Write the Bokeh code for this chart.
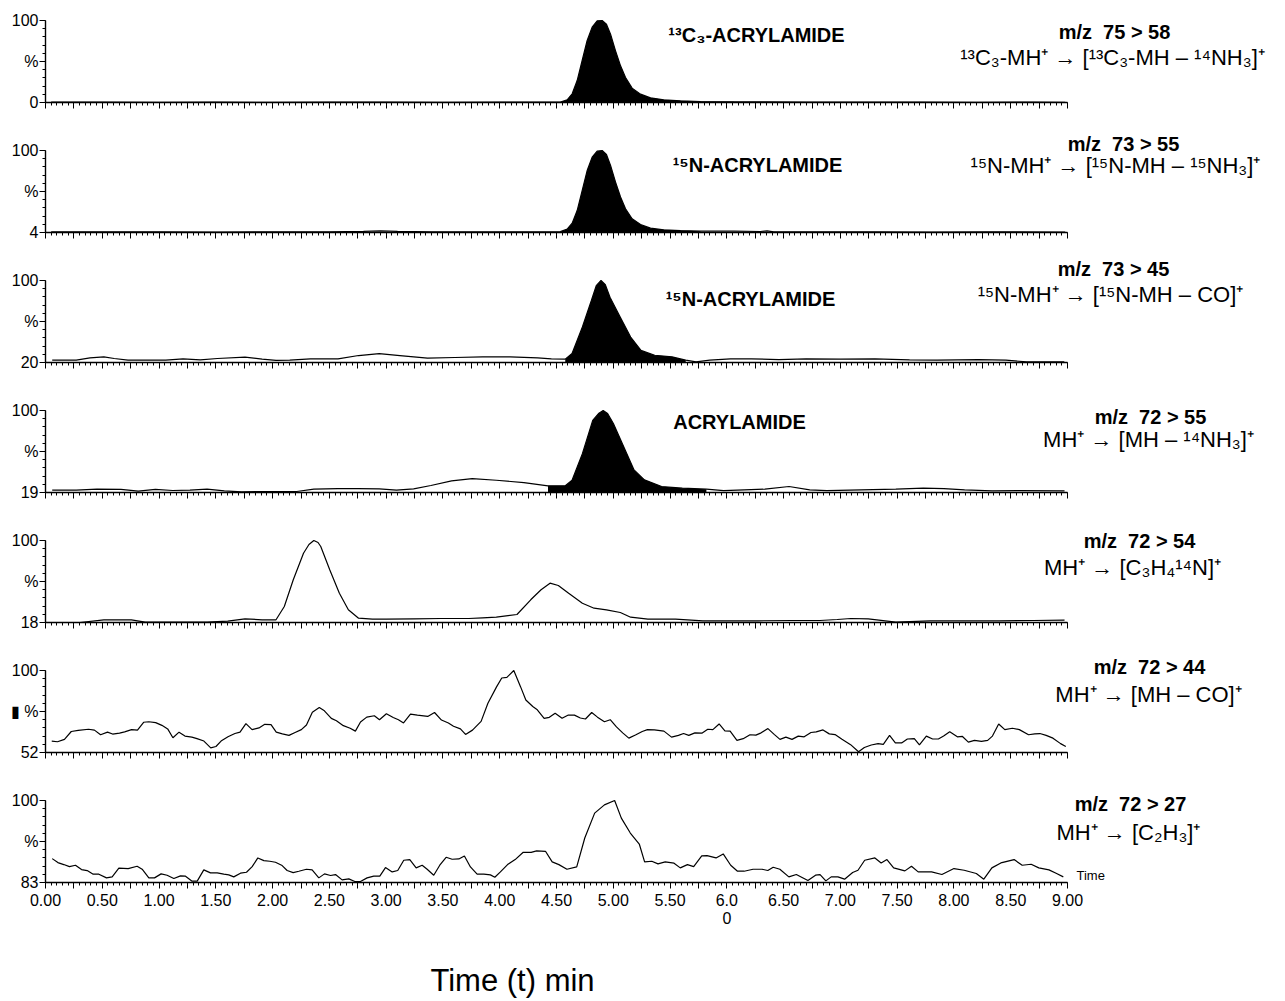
from bokeh.plotting import figure
from bokeh.models import Range1d, FixedTicker, Label
from bokeh.layouts import column
from bokeh.embed import file_html
from bokeh.resources import INLINE

FONT = "Liberation Sans"

# ---------------- data: (time [min], relative intensity [%]) ----------------
LOWS = [0, 4, 20, 19, 18, 52, 83]          # bottom value of each % axis

TRACE_1 = [(0.05, 0.4), (0.5, 0.4), (1.0, 0.3), (1.5, 0.4), (2.0, 0.3), (2.5, 0.4), (3.0, 0.4),
           (3.5, 0.3), (4.0, 0.4), (4.3, 0.4), (4.535, 0.6), (4.594, 3.3), (4.638, 10.6),
           (4.682, 26.8), (4.726, 51.2), (4.770, 75.6), (4.814, 91.9), (4.858, 99.6),
           (4.902, 100), (4.940, 95.5), (4.976, 83.3), (5.020, 63.0), (5.064, 44.7),
           (5.108, 30.5), (5.166, 17.5), (5.240, 10.2), (5.328, 5.7), (5.445, 3.3),
           (5.592, 2.0), (5.768, 1.2), (6.062, 0.8), (6.355, 0.9), (6.7, 0.5), (7.2, 0.4),
           (7.7, 0.4), (8.2, 0.3), (8.7, 0.4), (8.98, 0.3)]

TRACE_2 = [(0.05, 4.8), (0.5, 4.7), (1.0, 4.8), (1.5, 4.6), (2.0, 4.8), (2.5, 4.9), (2.8, 5.3),
           (2.95, 5.8), (3.1, 5.3), (3.4, 4.9), (3.8, 4.8), (4.2, 4.8), (4.535, 5.2),
           (4.594, 7.9), (4.638, 14.9), (4.682, 29.7), (4.726, 53.1), (4.770, 76.5),
           (4.814, 92.1), (4.858, 99.2), (4.902, 100), (4.940, 95.3), (4.976, 82.5),
           (5.020, 63.0), (5.064, 45.5), (5.108, 31.8), (5.166, 20.1), (5.240, 13.4),
           (5.328, 9.1), (5.445, 7.1), (5.592, 6.3), (5.768, 5.6), (6.062, 5.6), (6.296, 5.2),
           (6.355, 6.0), (6.413, 4.8), (6.8, 4.7), (7.3, 4.8), (7.8, 4.6), (8.3, 4.7), (8.98, 4.6)]

TRACE_3 = [(0.059, 22.3), (0.271, 22.3), (0.392, 24.5), (0.514, 25.5), (0.605, 23.9), (0.726, 22.3),
           (1.059, 22.3), (1.211, 23.6), (1.363, 22.6), (1.514, 23.9), (1.757, 25.2), (1.908, 23.3),
           (2.030, 22.0), (2.151, 22.3), (2.333, 23.6), (2.576, 23.6), (2.757, 26.8), (2.939, 28.7),
           (3.121, 26.8), (3.364, 24.2), (3.606, 24.9), (3.849, 25.5), (4.091, 25.5), (4.334, 24.5),
           (4.455, 23.6), (4.577, 23.3), (4.637, 28.7), (4.728, 54.6), (4.807, 80.5), (4.850, 95.0),
           (4.892, 100), (4.930, 96.0), (4.971, 83.7), (5.062, 64.2), (5.153, 44.8), (5.244, 31.8),
           (5.365, 27.1), (5.517, 25.5), (5.638, 22.3), (5.729, 20.6), (5.850, 22.3), (6.032, 23.6),
           (6.214, 23.6), (6.457, 22.9), (6.699, 23.6), (7.002, 23.3), (7.305, 23.6), (7.609, 22.6),
           (7.851, 22.3), (8.215, 22.9), (8.457, 22.3), (8.639, 20.6), (8.972, 20.6)]

TRACE_4 = [(0.059, 21.3), (0.271, 21.3), (0.453, 22.3), (0.665, 22.0), (0.817, 20.3), (0.968, 22.0),
           (1.120, 21.0), (1.272, 21.3), (1.423, 22.3), (1.575, 20.6), (1.727, 19.7), (2.030, 20.0),
           (2.212, 20.0), (2.363, 22.3), (2.575, 22.9), (2.757, 22.9), (2.939, 22.6), (3.091, 21.3),
           (3.242, 22.6), (3.394, 25.9), (3.576, 30.5), (3.758, 32.8), (3.970, 31.1), (4.213, 28.8),
           (4.425, 25.6), (4.577, 25.6), (4.637, 31.1), (4.728, 57.4), (4.819, 90.2), (4.870, 97.0),
           (4.911, 100), (4.950, 97.0), (5.001, 87.2), (5.092, 64.2), (5.183, 41.3), (5.274, 31.5),
           (5.426, 24.9), (5.608, 23.3), (5.820, 22.3), (5.972, 20.9), (6.154, 21.6), (6.335, 22.3),
           (6.548, 24.9), (6.730, 21.6), (6.881, 20.9), (7.185, 21.6), (7.488, 22.3), (7.730, 23.3),
           (7.912, 22.9), (8.094, 21.6), (8.336, 20.6), (8.579, 20.9), (8.974, 20.6)]

TRACE_5 = [(0.059, 18.0), (0.302, 18.0), (0.514, 20.7), (0.756, 20.7), (0.878, 18.3), (1.181, 18.3),
           (1.423, 18.3), (1.605, 19.3), (1.757, 21.7), (1.908, 20.7), (2.030, 20.7), (2.103, 34.0),
           (2.182, 60.7), (2.272, 87.3), (2.320, 96.0), (2.363, 100), (2.400, 98.0), (2.424, 94.0),
           (2.503, 70.7), (2.588, 47.3), (2.667, 30.7), (2.757, 22.3), (2.879, 21.3), (3.000, 21.3),
           (3.242, 21.7), (3.485, 22.0), (3.728, 22.0), (3.849, 22.7), (3.970, 23.3), (4.152, 26.0),
           (4.273, 40.7), (4.364, 50.7), (4.443, 57.3), (4.516, 55.0), (4.607, 47.3), (4.728, 37.3),
           (4.831, 32.3), (4.940, 30.7), (5.062, 28.0), (5.153, 23.3), (5.305, 21.3), (5.548, 21.3),
           (5.789, 19.7), (6.032, 19.7), (6.275, 19.7), (6.578, 20.0), (6.820, 20.0), (6.972, 21.0),
           (7.093, 22.0), (7.245, 21.7), (7.488, 18.3), (7.791, 19.7), (8.094, 19.7), (8.398, 19.7),
           (8.701, 20.0), (8.974, 20.3)]

TRACE_6 = [(0.055, 58.7), (0.106, 58.3), (0.167, 59.7), (0.227, 64.3), (0.288, 64.9), (0.379, 65.6),
           (0.431, 65.1), (0.485, 62.4), (0.546, 63.9), (0.591, 62.8), (0.652, 63.3), (0.697, 64.1),
           (0.758, 65.4), (0.810, 65.1), (0.864, 69.7), (0.910, 70.0), (0.970, 69.5), (1.025, 67.9),
           (1.076, 65.8), (1.122, 60.6), (1.176, 63.9), (1.228, 61.6), (1.289, 61.0), (1.334, 60.1),
           (1.395, 58.7), (1.455, 54.7), (1.501, 55.5), (1.546, 58.7), (1.607, 61.2), (1.668, 63.1),
           (1.713, 63.9), (1.765, 68.9), (1.819, 65.4), (1.880, 66.4), (1.931, 68.5), (1.986, 68.3),
           (2.032, 63.9), (2.086, 62.9), (2.144, 62.0), (2.198, 63.7), (2.253, 65.4), (2.298, 68.1),
           (2.350, 75.6), (2.411, 78.3), (2.456, 76.4), (2.517, 72.0), (2.562, 70.6), (2.623, 67.7),
           (2.683, 66.2), (2.729, 64.5), (2.774, 69.9), (2.829, 72.7), (2.896, 73.5), (2.941, 71.2),
           (3.002, 74.7), (3.062, 72.5), (3.108, 71.2), (3.153, 69.3), (3.214, 74.5), (3.275, 73.9),
           (3.366, 73.1), (3.426, 75.4), (3.487, 71.0), (3.548, 69.3), (3.593, 67.4), (3.654, 65.8),
           (3.699, 62.6), (3.760, 65.1), (3.836, 70.2), (3.896, 80.8), (3.972, 90.4), (4.018, 95.6),
           (4.063, 96.0), (4.124, 100), (4.184, 90.4), (4.230, 82.7), (4.291, 78.9), (4.331, 77.0),
           (4.391, 72.0), (4.437, 72.6), (4.488, 75.0), (4.549, 72.0), (4.604, 73.9), (4.658, 73.9),
           (4.710, 72.2), (4.755, 71.6), (4.810, 75.4), (4.861, 72.7), (4.922, 70.0), (4.973, 71.2),
           (5.028, 67.0), (5.083, 63.5), (5.137, 60.4), (5.195, 62.2), (5.255, 64.3), (5.301, 65.4),
           (5.362, 65.2), (5.446, 64.5), (5.513, 61.0), (5.574, 62.0), (5.619, 63.1), (5.665, 62.0),
           (5.719, 63.5), (5.780, 63.3), (5.832, 65.6), (5.877, 65.4), (5.932, 68.7), (5.983, 64.7),
           (6.029, 64.5), (6.089, 59.1), (6.144, 60.1), (6.204, 62.4), (6.256, 62.2), (6.302, 63.5),
           (6.362, 66.0), (6.417, 62.6), (6.468, 59.7), (6.520, 61.0), (6.574, 59.7), (6.629, 61.6),
           (6.681, 61.2), (6.741, 63.7), (6.787, 64.1), (6.847, 65.2), (6.902, 62.9), (6.953, 62.5),
           (7.014, 59.7), (7.090, 56.6), (7.160, 52.4), (7.211, 54.9), (7.272, 56.4), (7.332, 57.2),
           (7.378, 56.8), (7.433, 62.0), (7.484, 57.6), (7.539, 57.6), (7.590, 59.9), (7.651, 60.1),
           (7.696, 56.4), (7.757, 61.6), (7.812, 59.9), (7.863, 59.9), (7.909, 61.6), (7.963, 64.1),
           (8.030, 61.2), (8.075, 61.4), (8.127, 58.1), (8.181, 59.1), (8.242, 58.5), (8.297, 59.1),
           (8.339, 61.6), (8.394, 68.7), (8.448, 65.4), (8.515, 66.2), (8.576, 65.4), (8.657, 62.4),
           (8.712, 62.9), (8.757, 63.1), (8.812, 62.0), (8.872, 60.4), (8.939, 57.2), (8.985, 55.5)]

TRACE_7 = [(0.059, 87.95), (0.109, 87.13), (0.161, 86.72), (0.211, 86.30), (0.264, 86.58), (0.317, 85.68),
           (0.367, 85.48), (0.420, 84.72), (0.470, 84.72), (0.537, 83.96), (0.587, 84.17), (0.646, 85.96),
           (0.728, 85.89), (0.807, 86.37), (0.851, 85.75), (0.910, 83.96), (0.960, 83.96), (1.018, 84.79),
           (1.071, 84.51), (1.130, 83.83), (1.189, 84.38), (1.233, 84.31), (1.291, 83.28), (1.336, 83.28),
           (1.394, 85.62), (1.453, 85.00), (1.512, 85.00), (1.570, 84.72), (1.614, 84.58), (1.658, 84.17),
           (1.717, 84.93), (1.770, 85.13), (1.820, 86.30), (1.870, 88.09), (1.923, 87.54), (1.975, 87.40),
           (2.025, 87.20), (2.084, 86.51), (2.128, 85.48), (2.181, 85.06), (2.231, 85.34), (2.298, 85.75),
           (2.348, 85.61), (2.407, 83.96), (2.457, 84.79), (2.510, 84.45), (2.554, 84.65), (2.612, 83.55),
           (2.671, 83.76), (2.724, 83.21), (2.774, 83.21), (2.832, 83.96), (2.891, 84.31), (2.944, 84.31),
           (2.994, 86.10), (3.053, 85.20), (3.102, 85.48), (3.155, 87.61), (3.208, 87.75), (3.264, 86.03),
           (3.317, 86.58), (3.361, 85.75), (3.419, 84.51), (3.472, 86.58), (3.528, 88.23), (3.581, 87.82),
           (3.640, 87.89), (3.689, 88.51), (3.742, 86.23), (3.801, 84.72), (3.860, 84.72), (3.918, 84.58),
           (3.957, 84.10), (4.006, 85.20), (4.069, 86.71), (4.136, 87.75), (4.207, 89.26), (4.277, 89.26),
           (4.325, 89.54), (4.403, 89.47), (4.462, 87.27), (4.521, 86.71), (4.592, 85.75), (4.678, 86.23),
           (4.749, 92.22), (4.836, 97.38), (4.922, 99.10), (5.012, 100.0), (5.071, 96.35), (5.150, 93.26),
           (5.229, 90.98), (5.276, 87.27), (5.339, 87.41), (5.394, 86.86), (5.457, 87.27), (5.535, 87.00),
           (5.590, 86.03), (5.653, 86.71), (5.708, 86.30), (5.779, 88.51), (5.826, 88.57), (5.905, 88.09),
           (5.968, 88.92), (6.034, 86.58), (6.094, 85.34), (6.152, 85.34), (6.231, 85.75), (6.310, 85.75),
           (6.361, 85.48), (6.408, 86.17), (6.467, 85.75), (6.546, 84.17), (6.612, 84.65), (6.714, 83.41),
           (6.781, 84.51), (6.821, 84.65), (6.872, 83.34), (6.919, 84.17), (6.978, 84.17), (7.037, 83.69),
           (7.108, 85.06), (7.155, 85.54), (7.214, 87.61), (7.304, 88.09), (7.359, 87.06), (7.410, 87.75),
           (7.469, 86.03), (7.568, 85.41), (7.626, 86.37), (7.685, 85.20), (7.803, 85.20), (7.894, 84.65),
           (8.000, 85.89), (8.090, 85.54), (8.197, 84.86), (8.263, 83.69), (8.334, 86.03), (8.413, 87.06),
           (8.530, 87.75), (8.601, 86.58), (8.680, 86.78), (8.747, 86.03), (8.837, 85.61), (8.904, 84.86),
           (8.963, 84.17)]

TRACES = [TRACE_1, TRACE_2, TRACE_3, TRACE_4, TRACE_5, TRACE_6, TRACE_7]

# integrated (black-filled) peak windows, minutes
FILLS = [(4.535, 6.062), (4.535, 5.768), (4.577, 5.638), (4.425, 5.820), None, None, None]

NB = "\u00a0"
COMPOUNDS = ["¹³C₃-ACRYLAMIDE", "¹⁵N-ACRYLAMIDE", "¹⁵N-ACRYLAMIDE", "ACRYLAMIDE", None, None, None]
TRANSITIONS = [f"m/z{NB}{NB}75 > 58", f"m/z{NB}{NB}73 > 55", f"m/z{NB}{NB}73 > 45",
               f"m/z{NB}{NB}72 > 55", f"m/z{NB}{NB}72 > 54", f"m/z{NB}{NB}72 > 44",
               f"m/z{NB}{NB}72 > 27"]
REACTIONS = ["¹³C₃-MH⁺ → [¹³C₃-MH – ¹⁴NH₃]⁺",
             "¹⁵N-MH⁺ → [¹⁵N-MH – ¹⁵NH₃]⁺",
             "¹⁵N-MH⁺ → [¹⁵N-MH – CO]⁺",
             "MH⁺ → [MH – ¹⁴NH₃]⁺",
             "MH⁺ → [C₃H₄¹⁴N]⁺",
             "MH⁺ → [MH – CO]⁺",
             "MH⁺ → [C₂H₃]⁺"]
MID_LABELS = ["%", "%", "%", "%", "%", "▮ %", "%"]

X_MAJOR = [round(0.25 * i, 2) for i in range(37)]
X_MINOR = [round(0.05 * i, 2) for i in range(181)]
X_LABELS = ["6.0\n0" if t == 6.0 else (f"{t:.2f}" if i % 2 == 0 else "") for i, t in enumerate(X_MAJOR)]
X_END = 9.0

# ---------------- layout ----------------
AX_LEFT_PX, AX_RIGHT_PX, PAGE_RIGHT = 45, 1067, 1282
PX_PER_MIN = (AX_RIGHT_PX - AX_LEFT_PX) / X_END
FRAME_W = PAGE_RIGHT - AX_LEFT_PX
X_VIEW_END = FRAME_W / PX_PER_MIN
PANEL_H = 82                       # pixels between the 0/low line and the 100 line
HEADROOM = [20, 28, 28, 28, 28, 28, 28]
BOTTOM = [20, 20, 20, 20, 20, 20, 58]

# (compound x, dy), (transition x, dy), (reaction x, dy); x in page px, dy below the 100 line
ANN_POS = [((756, 14), (1114, 11), (1112, 37)),
           ((757, 14), (1123, -7), (1115, 15)),
           ((750, 18), (1113, -12), (1110, 14)),
           ((739, 11), (1150, 6), (1148, 29)),
           (None, (1139, 0), (1132, 27)),
           (None, (1149, -4), (1148, 24)),
           (None, (1130, 3), (1128, 32))]


def xd(px):
    return (px - AX_LEFT_PX) / PX_PER_MIN


def yd(lo, dy):
    return 100 - dy * (100 - lo) / PANEL_H


def lab(p, x, y, text, size, bold=False, align="center", baseline="middle", font=FONT):
    p.add_layout(Label(x=x, y=y, text=text, text_font=font, text_font_size=size,
                       text_font_style="bold" if bold else "normal", text_color="black",
                       text_align=align, text_baseline=baseline))


figs = []
n = len(TRACES)
for i in range(n):
    lo = LOWS[i]
    last = i == n - 1
    head = HEADROOM[i]
    p = figure(frame_width=FRAME_W, frame_height=PANEL_H + head,
               x_range=Range1d(0, X_VIEW_END), y_range=Range1d(lo, yd(lo, -head)),
               output_backend="svg", toolbar_location=None,
               min_border_left=AX_LEFT_PX, min_border_right=0, min_border_top=0,
               min_border_bottom=BOTTOM[i])
    p.grid.visible = False
    p.outline_line_color = None
    p.background_fill_color = "white"
    p.border_fill_color = "white"

    xa = p.xaxis[0]
    xa.bounds = (0, X_END)
    xa.ticker = FixedTicker(ticks=X_MAJOR, minor_ticks=X_MINOR)
    xa.axis_line_width = 1.6
    xa.axis_line_color = "black"
    xa.major_tick_line_color = "black"
    xa.minor_tick_line_color = "black"
    xa.major_tick_out, xa.major_tick_in = 6, 0
    xa.minor_tick_out, xa.minor_tick_in = 3, 0
    xa.major_label_text_font = FONT
    xa.major_label_text_color = "black"
    if last:
        xa.major_label_overrides = {t: s for t, s in zip(X_MAJOR, X_LABELS)}
        xa.major_label_standoff = 3
        xa.major_label_text_font_size = "16px"
        xa.major_label_text_line_height = 1.1
    else:
        xa.major_label_overrides = {t: "" for t in X_MAJOR}
        xa.major_label_standoff = 0
        xa.major_label_text_font_size = "0px"

    ya = p.yaxis[0]
    mid = (lo + 100) / 2
    ya.bounds = (lo, 100)
    ya.ticker = FixedTicker(ticks=[lo, mid, 100],
                            minor_ticks=[lo + k * (100 - lo) / 10 for k in range(11)])
    ya.major_label_overrides = {lo: str(lo), mid: MID_LABELS[i], 100: "100"}
    ya.axis_line_width = 1.4
    ya.axis_line_color = "black"
    ya.major_tick_line_color = "black"
    ya.minor_tick_line_color = "black"
    ya.major_tick_out, ya.major_tick_in = 6, 0
    ya.minor_tick_out, ya.minor_tick_in = 3, 0
    ya.major_label_standoff = 1
    ya.major_label_text_font = FONT
    ya.major_label_text_font_size = "16px"
    ya.major_label_text_color = "black"

    ts = [a for a, b in TRACES[i]]
    vs = [b for a, b in TRACES[i]]
    if FILLS[i] is not None:
        t0, t1 = FILLS[i]
        ft = [t for t in ts if t0 <= t <= t1]
        fv = [v for t, v in zip(ts, vs) if t0 <= t <= t1]
        p.varea(x=ft, y1=[lo] * len(ft), y2=fv, fill_color="black")
    p.line(ts, vs, line_color="black", line_width=1.2)

    cpos, mpos, rpos = ANN_POS[i]
    if COMPOUNDS[i]:
        lab(p, xd(cpos[0]), yd(lo, cpos[1]), COMPOUNDS[i], "20px", bold=True)
    lab(p, xd(mpos[0]), yd(lo, mpos[1]), TRANSITIONS[i], "20px", bold=True)
    lab(p, xd(rpos[0]), yd(lo, rpos[1]), REACTIONS[i], "22px")
    if last:
        lab(p, xd(1076), lo, "Time", "13px", align="left", baseline="bottom")
    figs.append(p)

# strip underneath for the overall axis caption
CAP_H = 60
cap = figure(frame_width=FRAME_W, frame_height=CAP_H, x_range=Range1d(0, X_VIEW_END),
             y_range=Range1d(CAP_H, 0), output_backend="svg", toolbar_location=None,
             x_axis_location=None, y_axis_location=None,
             min_border_left=AX_LEFT_PX, min_border_right=0, min_border_top=0, min_border_bottom=0)
cap.grid.visible = False
cap.outline_line_color = None
lab(cap, xd(512), 40, "Time (t) min", "31px", baseline="middle")
figs.append(cap)

layout = column(*figs, spacing=0)
open("out.html", "w").write(file_html(layout, INLINE))
